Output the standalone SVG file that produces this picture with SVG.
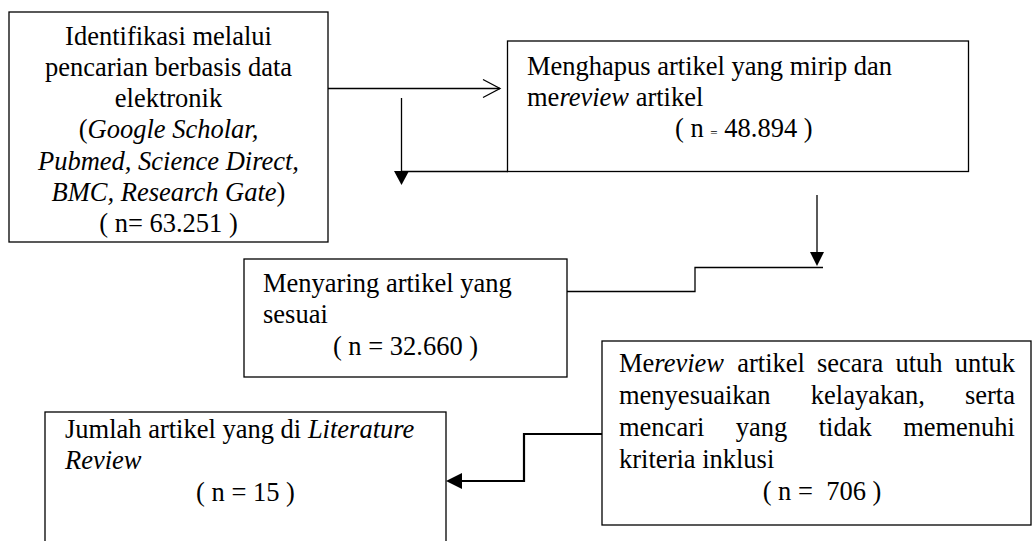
<svg xmlns="http://www.w3.org/2000/svg" width="1033" height="541" viewBox="0 0 1033 541">
<style>
.box{fill:#fff;stroke:#000;stroke-width:1.3}
.t{font-family:"Liberation Serif","Times New Roman",serif;font-size:26.5px;fill:#000}
.c{text-anchor:middle}
.i{font-style:italic}
.ln{fill:none;stroke:#000;stroke-width:1.3}
.lnb{fill:none;stroke:#000;stroke-width:2.2}
.ah{fill:#000;stroke:none}
</style>
<rect width="1033" height="541" fill="#fff"/>
<g id="node-identifikasi">
<rect class="box" x="9" y="12" width="319" height="230"/>
<text class="t c" x="168.5" y="45">Identifikasi melalui</text>
<text class="t c" x="168.5" y="76">pencarian berbasis data</text>
<text class="t c" x="168.5" y="107">elektronik</text>
<text class="t c" x="168.5" y="138">(<tspan class="i">Google Scholar,</tspan></text>
<text class="t c i" x="168.5" y="170">Pubmed, Science Direct,</text>
<text class="t c" x="168.5" y="201"><tspan class="i">BMC, Research Gate</tspan>)</text>
<text class="t c" x="168.5" y="232">( n= 63.251 )</text>
</g>
<g id="node-menghapus">
<rect class="box" x="507.5" y="41" width="461" height="130.5"/>
<text class="t" x="527" y="75">Menghapus artikel yang mirip dan</text>
<text class="t" x="527" y="106">me<tspan class="i">review</tspan> artikel</text>
<text class="t" x="675" y="137">( n <tspan font-size="13">=</tspan> 48.894 )</text>
</g>
<g id="node-menyaring">
<rect class="box" x="244" y="259" width="323" height="118"/>
<text class="t" x="263" y="292">Menyaring artikel yang</text>
<text class="t" x="263" y="323">sesuai</text>
<text class="t c" x="405.5" y="355">( n = 32.660 )</text>
</g>
<g id="node-mereview">
<rect class="box" x="602" y="341" width="429" height="184"/>
<text class="t" y="372"><tspan x="619">Me</tspan><tspan class="i">review</tspan><tspan x="737.2">artikel</tspan><tspan x="817">secara</tspan><tspan x="895.4">utuh</tspan><tspan x="1015" text-anchor="end">untuk</tspan></text>
<text class="t" y="404"><tspan x="619">menyesuaikan</tspan><tspan x="810.8">kelayakan,</tspan><tspan x="1015" text-anchor="end">serta</tspan></text>
<text class="t" y="436"><tspan x="619">mencari</tspan><tspan x="735.8">yang</tspan><tspan x="818.7">tidak</tspan><tspan x="1015" text-anchor="end">memenuhi</tspan></text>
<text class="t" x="619" y="468">kriteria inklusi</text>
<text class="t c" x="822" y="500" xml:space="preserve">( n =  706 )</text>
</g>
<g id="node-jumlah">
<rect class="box" x="45" y="412" width="401" height="140"/>
<text class="t" x="65" y="438">Jumlah artikel yang di <tspan class="i">Literature</tspan></text>
<text class="t i" x="65" y="469">Review</text>
<text class="t c" x="245.5" y="501">( n = 15 )</text>
</g>
<g id="connectors">
<path class="ln" d="M328 88.5 H500"/>
<path class="ln" d="M483 79.5 L500 88.5 L483 97.5"/>
<path class="ln" d="M401.5 98 V172"/>
<polygon class="ah" points="394,171 409,171 401.5,185"/>
<path class="ln" d="M401.5 171.5 H508"/>
<path class="ln" d="M817 195 V253"/>
<polygon class="ah" points="810,252 824,252 817,266"/>
<path class="ln" d="M823 267.5 H695 V291.5 H567"/>
<path class="lnb" d="M602 434 H524 V481 H460"/>
<polygon class="ah" points="462,473 462,489 446,481"/>
</g>
</svg>
